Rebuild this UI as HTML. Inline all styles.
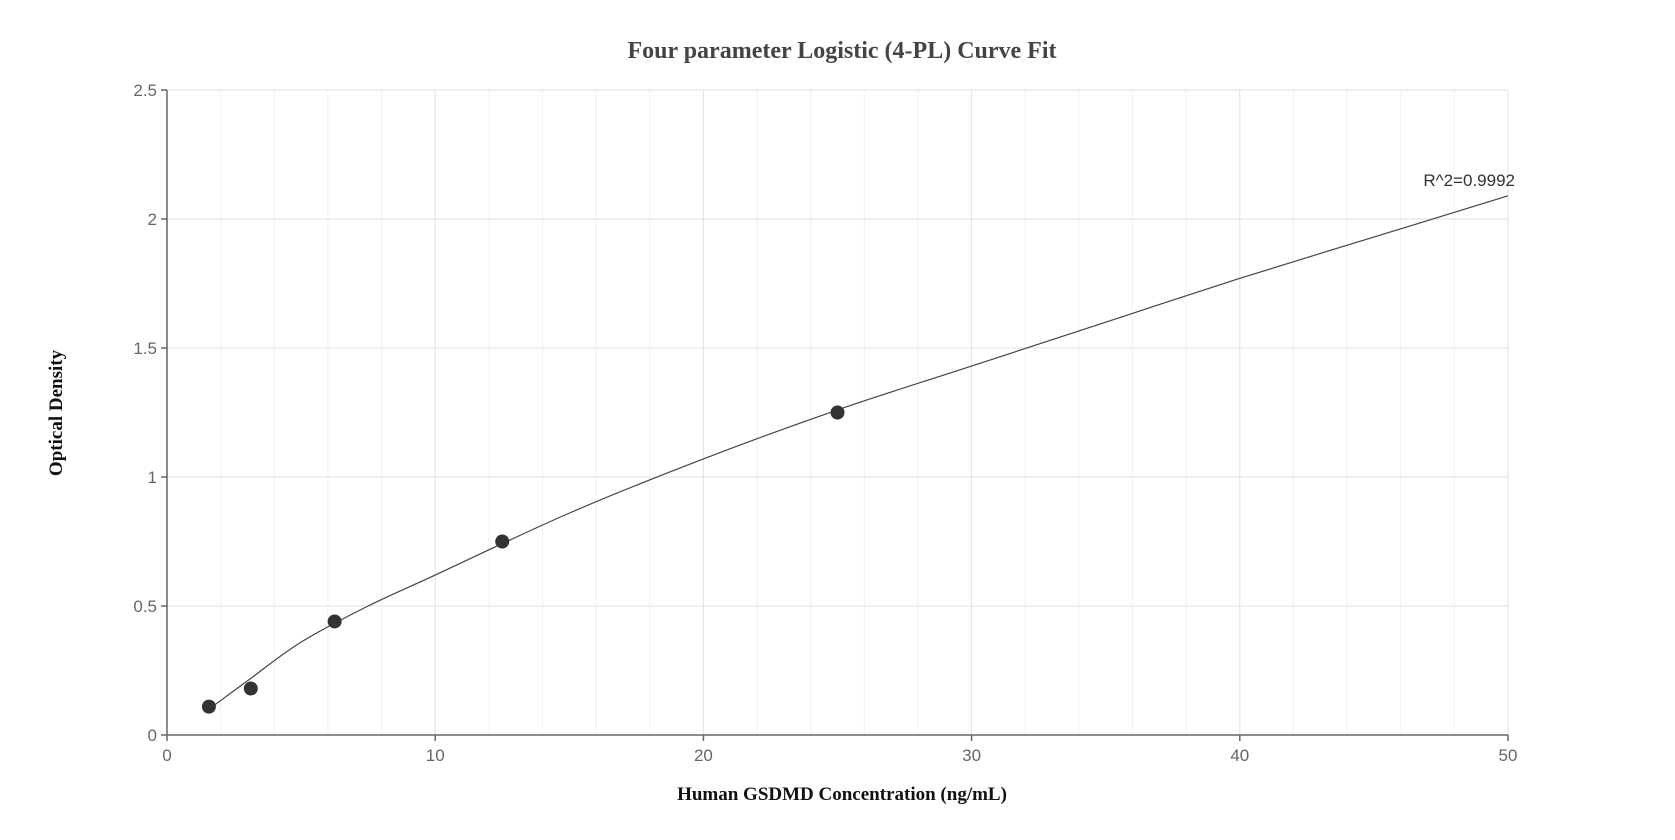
<!DOCTYPE html>
<html><head><meta charset="utf-8"><style>
html,body{margin:0;padding:0;background:#fff;}
svg{display:block;}
</style></head><body>
<svg id="chart" width="1675" height="840" xmlns="http://www.w3.org/2000/svg">
<text x="842" y="58" text-anchor="middle" font-family="Liberation Serif, serif" font-weight="bold" font-size="24" fill="#444">Four parameter Logistic (4-PL) Curve Fit</text>
<g id="grid"></g>
<g id="axes"></g>
<g id="marks"></g>
<text x="1515" y="186" text-anchor="end" font-family="Liberation Sans, sans-serif" font-size="17" fill="#333">R^2=0.9992</text>
<text x="842" y="800" text-anchor="middle" font-family="Liberation Serif, serif" font-weight="bold" font-size="19" fill="#111">Human GSDMD Concentration (ng/mL)</text>
<text transform="translate(62,413) rotate(-90)" text-anchor="middle" font-family="Liberation Serif, serif" font-weight="bold" font-size="19" fill="#111">Optical Density</text>
</svg>
<script>
const xTicks=[0,10,20,30,40,50];
const yTicks=[0,0.5,1,1.5,2,2.5];
const yTickLabels=["0","0.5","1","1.5","2","2.5"];
const pointX=[1.5625,3.125,6.25,12.5,25];
const pointY=[0.11,0.18,0.44,0.75,1.25];
const curveX=[1.5625,3,5,7.5,10,15,20,25,30,35,40,45,50];
const curveY=[0.10,0.21,0.36,0.50,0.62,0.86,1.07,1.26,1.43,1.60,1.77,1.93,2.09];

const X0=167,X1=1508,Y0=735,Y1=90;
const sx=v=>X0+(v-0)/(50-0)*(X1-X0);
const sy=v=>Y0-(v-0)/(2.5-0)*(Y0-Y1);
const NS="http://www.w3.org/2000/svg";
function mk(tag,attrs,parent){const e=document.createElementNS(NS,tag);for(const k in attrs)e.setAttribute(k,attrs[k]);parent.appendChild(e);return e;}
const grid=document.getElementById('grid'),axes=document.getElementById('axes'),marks=document.getElementById('marks');
for(let v=2;v<50;v+=2){if(v%10===0)continue;const l=mk('line',{x1:sx(v),x2:sx(v),y1:Y1,y2:Y0,stroke:'#f0f1f5','stroke-width':1},grid);

}
xTicks.forEach(v=>{if(v===0)return;const l=mk('line',{x1:sx(v),x2:sx(v),y1:Y1,y2:Y0,stroke:'#dfe2ea','stroke-width':1},grid);

});
yTicks.forEach(v=>{if(v===0)return;const l=mk('line',{x1:X0,x2:X1,y1:sy(v),y2:sy(v),stroke:'#dfe2ea','stroke-width':1},grid);

});
let a=mk('line',{x1:X0,x2:X1,y1:Y0,y2:Y0,stroke:'#666','stroke-width':1.5},axes);


a=mk('line',{x1:X0,x2:X0,y1:Y1,y2:Y0,stroke:'#666','stroke-width':1.5},axes);


xTicks.forEach(v=>{const t=mk('line',{x1:sx(v),x2:sx(v),y1:Y0,y2:Y0+6,stroke:'#666','stroke-width':1.5},axes);


const tx=mk('text',{x:sx(v),y:Y0+26,'text-anchor':'middle','font-family':'Liberation Sans, sans-serif','font-size':17,fill:'#666'},axes);tx.textContent=String(v);

});
yTicks.forEach((v,i)=>{const t=mk('line',{x1:X0-6,x2:X0,y1:sy(v),y2:sy(v),stroke:'#666','stroke-width':1.5},axes);


const tx=mk('text',{x:X0-10,y:sy(v)+6,'text-anchor':'end','font-family':'Liberation Sans, sans-serif','font-size':17,fill:'#666'},axes);tx.textContent=yTickLabels[i];

});
// smooth curve via Catmull-Rom
const P=curveX.map((x,i)=>[sx(x),sy(curveY[i])]);
let d='M'+P[0][0]+','+P[0][1];
for(let i=0;i<P.length-1;i++){const p0=P[i-1]||P[i],p1=P[i],p2=P[i+1],p3=P[i+2]||P[i+1];
d+=' C'+(p1[0]+(p2[0]-p0[0])/6)+','+(p1[1]+(p2[1]-p0[1])/6)+' '+(p2[0]-(p3[0]-p1[0])/6)+','+(p2[1]-(p3[1]-p1[1])/6)+' '+p2[0]+','+p2[1];}
const c=mk('path',{d:d,fill:'none',stroke:'#444','stroke-width':1.2},marks);


pointX.forEach((x,i)=>{const p=mk('circle',{cx:sx(x),cy:sy(pointY[i]),r:7,fill:'#333'},marks);

});
</script>
</body></html>
